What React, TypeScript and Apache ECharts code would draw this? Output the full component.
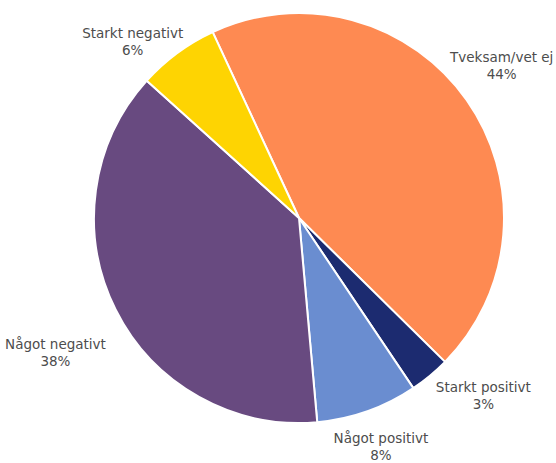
import React, { useEffect, useRef } from "react";
import * as echarts from "echarts";

const categories = ["Tveksam/vet ej", "Starkt positivt", "Något positivt", "Något negativt", "Starkt negativt"];
const values = [44.3, 3.2, 8.0, 38.1, 6.4];
const percentLabels = ["44%", "3%", "8%", "38%", "6%"];
const colors = ["#FE8A52", "#1C2B70", "#6A8DD0", "#684A80", "#FED402"];
// small per-label nudges (px) applied after the angle-based placement
const labelNudges = [
  [-10, -3],
  [24, -16],
  [2, 3],
  [-10, 18],
  [-17, 26],
];

const CX = 299;
const CY = 218;
const R = 205;
const START_FROM_TOP = -24.9; // degrees clockwise from 12 o'clock

export default function App() {
  const ref = useRef<HTMLDivElement>(null);
  useEffect(() => {
    if (!ref.current) return;
    const chart = echarts.init(ref.current, null, { renderer: "svg" });
    const total = values.reduce((a, b) => a + b, 0);
    const mids: number[] = [];
    let cum = 0;
    values.forEach((v) => {
      mids.push(START_FROM_TOP + ((cum + v / 2) / total) * 360);
      cum += v;
    });
    chart.setOption({
      animation: false,
      backgroundColor: "#ffffff",
      series: [
        {
          type: "pie",
          center: [CX, CY],
          radius: R,
          startAngle: 90 - START_FROM_TOP,
          clockwise: true,
          avoidLabelOverlap: false,
          itemStyle: { borderColor: "#ffffff", borderWidth: 2 },
          label: {
            show: true,
            position: "outside",
            formatter: (p: any) => `{a|${p.name}}\n{a|${percentLabels[p.dataIndex]}}`,
            rich: {
              a: {
                align: "center",
                fontFamily: "DejaVu Sans",
                fontSize: 13.5,
                color: "#4d4d4d",
                lineHeight: 17,
              },
            },
          },
          labelLine: { show: false },
          labelLayout: (params: any) => {
            const i = params.dataIndex;
            const th = (mids[i] * Math.PI) / 180;
            const s = Math.sin(th);
            const c = Math.cos(th);
            const hw = params.labelRect.width / 2;
            const hh = params.labelRect.height / 2;
            const d = R + 4 + Math.abs(s) * hw + Math.abs(c) * hh;
            return {
              x: CX + d * s + labelNudges[i][0],
              y: CY - d * c + labelNudges[i][1],
              align: "center",
              verticalAlign: "middle",
            };
          },
          data: categories.map((n, i) => ({
            name: n,
            value: values[i],
            itemStyle: { color: colors[i] },
          })),
        },
      ],
    });
    return () => chart.dispose();
  }, []);
  return (
    <div
      ref={ref}
      style={{ position: "fixed", left: 0, top: 0, width: 556, height: 463 }}
    />
  );
}
